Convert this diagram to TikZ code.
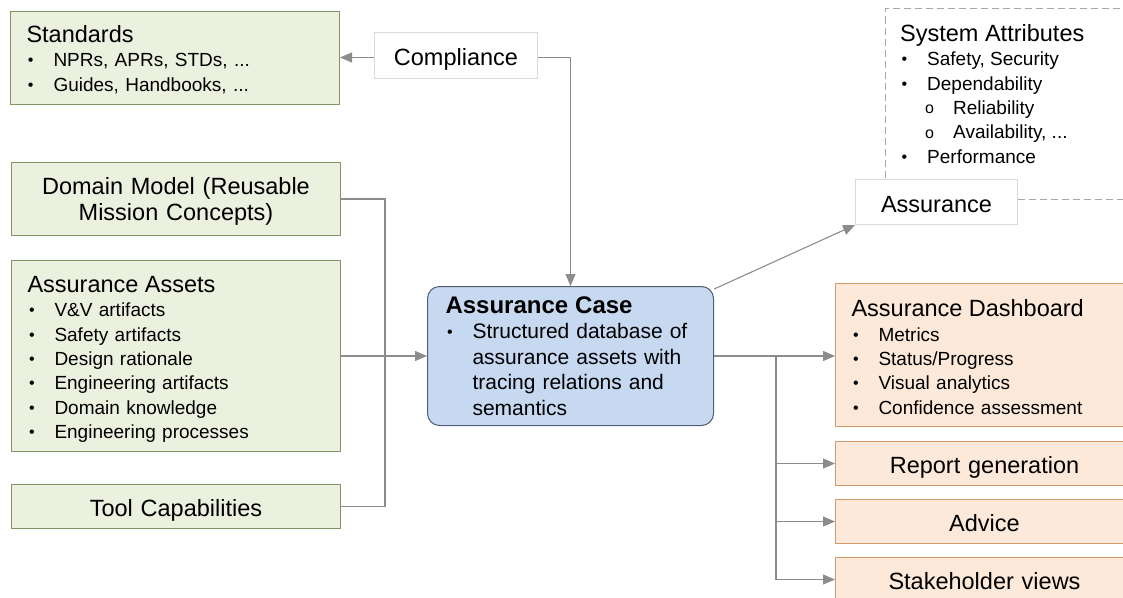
\documentclass[tikz,border=0pt]{standalone}
\usepackage{fontspec}
\setmainfont{Liberation Sans}
\usepackage{xcolor}
\usetikzlibrary{arrows.meta}
\definecolor{grnfill}{HTML}{EBF1DE}
\definecolor{grnline}{HTML}{7F9562}
\definecolor{casefill}{HTML}{C6D9F1}
\definecolor{caseline}{HTML}{4F5E74}
\definecolor{orgfill}{HTML}{FDE9D9}
\definecolor{orgline}{HTML}{D69A68}
\definecolor{wiregray}{HTML}{8C8C8C}
\definecolor{pale}{HTML}{DADADA}
\definecolor{dashgray}{HTML}{A6A6A6}
\newcommand{\bodyfont}{\fontsize{19}{24.4}\selectfont}
\newcommand{\headfont}{\fontsize{23.5}{24.4}\selectfont}
\newcommand{\ttl}[2][23pt]{\rule{0pt}{#1}{\headfont #2}}
\newcommand{\itm}[1]{\makebox[27pt][l]{\hspace{1.5pt}\raisebox{1pt}{\fontsize{16}{16}\selectfont\textbullet}}#1}
\newcommand{\subitm}[1]{\hspace*{25pt}\makebox[28pt][l]{\raisebox{0.5pt}{\fontsize{16}{16}\selectfont o}}#1}

\begin{document}
\begin{tikzpicture}[x=1pt,y=-1pt,
  box/.style={line width=1pt, anchor=north west, inner xsep=16pt, inner ysep=0pt, align=left},
  greenbox/.style={box, draw=grnline, fill=grnfill, font=\bodyfont},
  orangebox/.style={box, draw=orgline, fill=orgfill, font=\bodyfont},
  oneline/.style={align=center, font=\headfont, text height=20pt, text depth=0pt},
  whitebox/.style={box, draw=pale, fill=white, inner xsep=0pt, oneline},
  wire/.style={draw=wiregray, line width=1.1pt},
  conn/.style={wire, -{Triangle[length=12pt,width=10pt]}}]
  \useasboundingbox (0,0) rectangle (1123,597);

  % left column
  \node[greenbox, text width=297, minimum height=93] (std) at (10,11)
    {\ttl[20pt]{Standards}\\\itm{NPRs, APRs, STDs, ...}\\\itm{Guides, Handbooks, ...}};
  \node[whitebox, minimum width=163, minimum height=46] (comp) at (374,32) {Compliance};
  \node[greenbox, text width=297, minimum height=73, align=center, font=\fontsize{23.5}{26}\selectfont] (dom) at (11,162)
    {\rule{0pt}{21pt}Domain Model (Reusable\\Mission Concepts)};
  \node[greenbox, text width=297, minimum height=191] (assets) at (11,260)
    {\ttl{Assurance Assets}\\\itm{V\&V artifacts}\\\itm{Safety artifacts}\\\itm{Design rationale}\\
     \itm{Engineering artifacts}\\\itm{Domain knowledge}\\\itm{Engineering processes}};
  \node[greenbox, text width=297, minimum height=44, oneline] (tool) at (11,484) {Tool Capabilities};

  % centre
  \node[box, draw=caseline, fill=casefill, rounded corners=12pt, inner xsep=18pt, text width=250, minimum height=139,
        font=\fontsize{21}{25.5}\selectfont] (case) at (427,286)
    {{\fontsize{24}{25.5}\selectfont\bfseries Assurance Case}\\\itm{Structured database of}\\
     \hspace*{27pt}assurance assets with\\\hspace*{27pt}tracing relations and\\\hspace*{27pt}semantics};

  % right column
  \node[box, draw=dashgray, dash pattern=on 7pt off 4pt, minimum width=280, minimum height=191] (attrbox) at (885,8) {};
  \node[anchor=north west, inner sep=0pt, align=left, font=\bodyfont] (attr) at (900,24)
    {{\headfont System Attributes}\\\itm{Safety, Security}\\\itm{Dependability}\\\subitm{Reliability}\\
     \subitm{Availability, ...}\\\itm{Performance}};
  \node[whitebox, minimum width=162, minimum height=45] (asr) at (855,179) {Assurance};
  \node[orangebox, text width=266, minimum height=143] (dash) at (835,283)
    {\ttl[21pt]{Assurance Dashboard}\\\itm{Metrics}\\\itm{Status/Progress}\\\itm{Visual analytics}\\\itm{Confidence assessment}};
  \node[orangebox, text width=266, minimum height=44, oneline] (rep) at (835,441) {Report generation};
  \node[orangebox, text width=266, minimum height=44, oneline] (adv) at (835,499) {Advice};
  \node[orangebox, text width=266, minimum height=44, oneline] (stake) at (835,557) {Stakeholder views};

  % connectors
  \draw[conn] ([yshift=-2pt]comp.west) -- ([yshift=-2pt]comp.west -| std.east);
  \draw[conn] ([yshift=-2pt]comp.east) -| (case.north);
  \draw[wire] (dom.east) -- ++(44,0) |- (tool.east);
  \draw[conn] (assets) -- (case);
  \draw[conn] (case.25) -- (asr.south west);
  \draw[conn] (case.east) -- (case.east -| dash.west);
  \path (case.east) ++(62,0) coordinate (split);
  \draw[conn] (split) |- (stake.west);
  \draw[conn] (split |- rep.west) -- (rep.west);
  \draw[conn] (split |- adv.west) -- (adv.west);
\end{tikzpicture}
\end{document}
